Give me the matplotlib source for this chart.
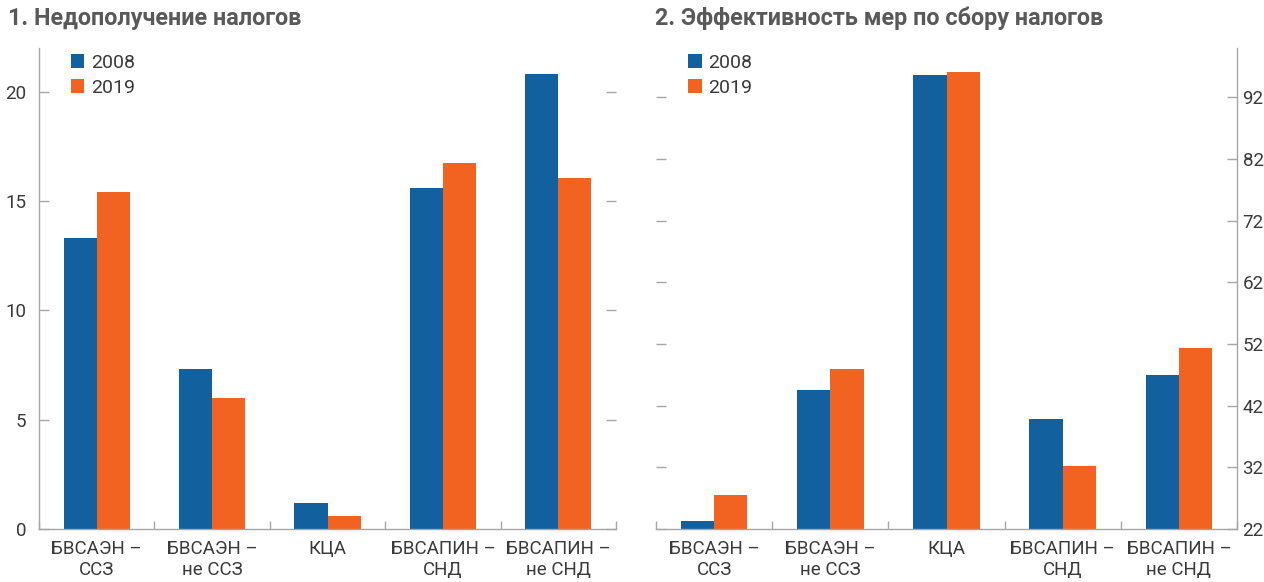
import numpy as np
import matplotlib
matplotlib.use("Agg")
import matplotlib.pyplot as plt

plt.rcParams['font.family'] = ['Roboto', 'DejaVu Sans']

categories = ["БВСАЭН –\nССЗ", "БВСАЭН –\nне ССЗ", "КЦА", "БВСАПИН –\nСНД", "БВСАПИН –\nне СНД"]
years = ["2008", "2019"]

# 1. tax shortfall
shortfall_2008 = [13.3, 7.3, 1.2, 15.6, 20.8]
shortfall_2019 = [15.4, 6.0, 0.6, 16.75, 16.05]

# 2. collection efficiency
efficiency_2008 = [23.3, 44.5, 95.6, 39.8, 47.0]
efficiency_2019 = [27.5, 47.9, 96.1, 32.2, 51.3]

blue = "#13609f"
orange = "#f26322"
grey = "#a6a6a6"
title_col = "#595959"
text_col = "#3a3a3a"

fig = plt.figure(figsize=(12.64, 5.82), dpi=100)
ax1 = fig.add_axes([39/1264, 1-529/582, 577/1264, 481/582])
ax2 = fig.add_axes([656/1264, 1-529/582, 581/1264, 481/582])

x = np.arange(len(categories))
w = 0.286

def draw(ax, v1, v2, ylim, yticks):
    ax.bar(x - w/2, v1, w, color=blue, label=years[0])
    ax.bar(x + w/2, v2, w, color=orange, label=years[1])
    ax.set_xlim(-0.5, len(categories) - 0.5)
    ax.set_ylim(*ylim)
    ax.set_yticks(yticks)
    ax.set_xticks(x)
    ax.set_xticklabels(categories, fontsize=13.5, color=text_col, linespacing=1.2)
    ax.set_xticks(np.arange(-0.5, len(categories)), minor=True)
    ax.tick_params(axis='x', which='major', length=0, pad=8)
    ax.tick_params(axis='x', which='minor', direction='in', length=6, color=grey, width=1)
    ax.tick_params(axis='y', direction='in', length=7, color=grey, width=1,
                   labelsize=13.5, labelcolor=text_col, left=True, right=True)
    ax.spines['top'].set_visible(False)
    for s in ax.spines.values():
        s.set_color(grey)
        s.set_linewidth(1)
    leg = ax.legend(loc='upper left', bbox_to_anchor=(0.035, 1.012), frameon=False,
                    fontsize=14, handlelength=0.7, handleheight=0.7,
                    handletextpad=0.35, labelspacing=0.35, borderaxespad=0.2)
    for t in leg.get_texts():
        t.set_color(text_col)

draw(ax1, shortfall_2008, shortfall_2019, (0, 22), [0, 5, 10, 15, 20])
ax1.spines['right'].set_visible(False)
ax1.tick_params(axis='y', labelleft=True, labelright=False, pad=9)

draw(ax2, efficiency_2008, efficiency_2019, (22, 100), [22, 32, 42, 52, 62, 72, 82, 92])
ax2.spines['left'].set_visible(False)
ax2.tick_params(axis='y', labelleft=False, labelright=True, pad=4)

fig.text(8/1264, 1-18/582, "1. Недополучение налогов", fontsize=16.8, fontweight='bold',
         color=title_col, va='center', ha='left')
fig.text(655/1264, 1-18/582, "2. Эффективность мер по сбору налогов", fontsize=16.8,
         fontweight='bold', color=title_col, va='center', ha='left')

fig.savefig("out.png", dpi=100)
